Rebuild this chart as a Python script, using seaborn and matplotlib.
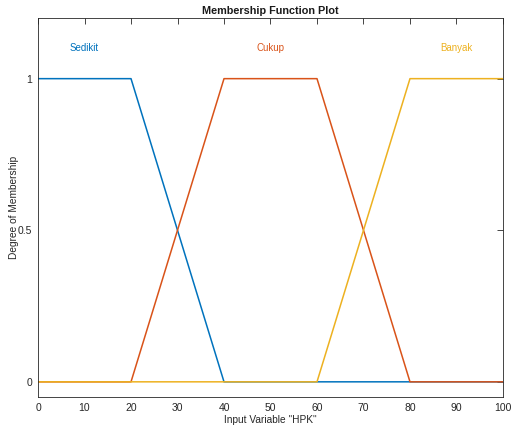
"""Membership function plot for the input variable HPK."""

import matplotlib

matplotlib.use("Agg")

import matplotlib.pyplot as plt
import pandas as pd
import seaborn as sns

# breakpoints of each trapezoid membership function
sedikit_x = [0, 20, 40, 100]
sedikit_y = [1, 1, 0, 0]
cukup_x = [0, 20, 40, 60, 80, 100]
cukup_y = [0, 0, 1, 1, 0, 0]
banyak_x = [0, 60, 80, 100]
banyak_y = [0, 0, 1, 1]

mf_names = ["Sedikit", "Cukup", "Banyak"]
label_x = [10, 50, 90]
label_y = 1.1
x_ticks = [0, 10, 20, 30, 40, 50, 60, 70, 80, 90, 100]
y_ticks = [0, 0.5, 1]
y_tick_labels = ["0", "0.5", "1"]

colors = ["#0072BD", "#D95319", "#EDB120"]

frames = []
for name, xs, ys in zip(mf_names, [sedikit_x, cukup_x, banyak_x], [sedikit_y, cukup_y, banyak_y]):
    frames.append(pd.DataFrame({"x": xs, "y": ys, "mf": name}))
data = pd.concat(frames, ignore_index=True)

sns.set_style("white")
plt.rcParams["font.family"] = ["Liberation Sans", "DejaVu Sans"]

fig = plt.figure(figsize=(5.11, 4.26), dpi=100)
ax = fig.add_axes([0.0744, 0.0681, 0.9099, 0.8896])

sns.lineplot(
    data=data, x="x", y="y", hue="mf", hue_order=mf_names, palette=colors,
    sort=False, estimator=None, linewidth=1.1, legend=False, ax=ax,
)

for name, lx, color in zip(mf_names, label_x, colors):
    ax.text(lx, label_y, name, color=color, fontsize=7, ha="center", va="center")

ax.set_xlim(0, 100)
ax.set_ylim(-0.05, 1.2)
ax.set_xticks(x_ticks)
ax.set_yticks(y_ticks)
ax.set_yticklabels(y_tick_labels)
ax.tick_params(direction="in", length=4, width=0.6, colors="#262626", labelsize=7.5,
               top=True, right=True, labeltop=False, labelright=False, pad=4)
for spine in ax.spines.values():
    spine.set_visible(True)
    spine.set_color("#262626")
    spine.set_linewidth(0.6)

ax.set_xlabel('Input Variable "HPK"', fontsize=7.3, color="#262626", labelpad=2)
ax.set_ylabel("Degree of Membership", fontsize=7.3, color="#262626", labelpad=-1)
ax.set_title("Membership Function Plot", fontsize=7.8, fontweight="bold", color="#1a1a1a", pad=3)

fig.savefig("out.png", dpi=100)
